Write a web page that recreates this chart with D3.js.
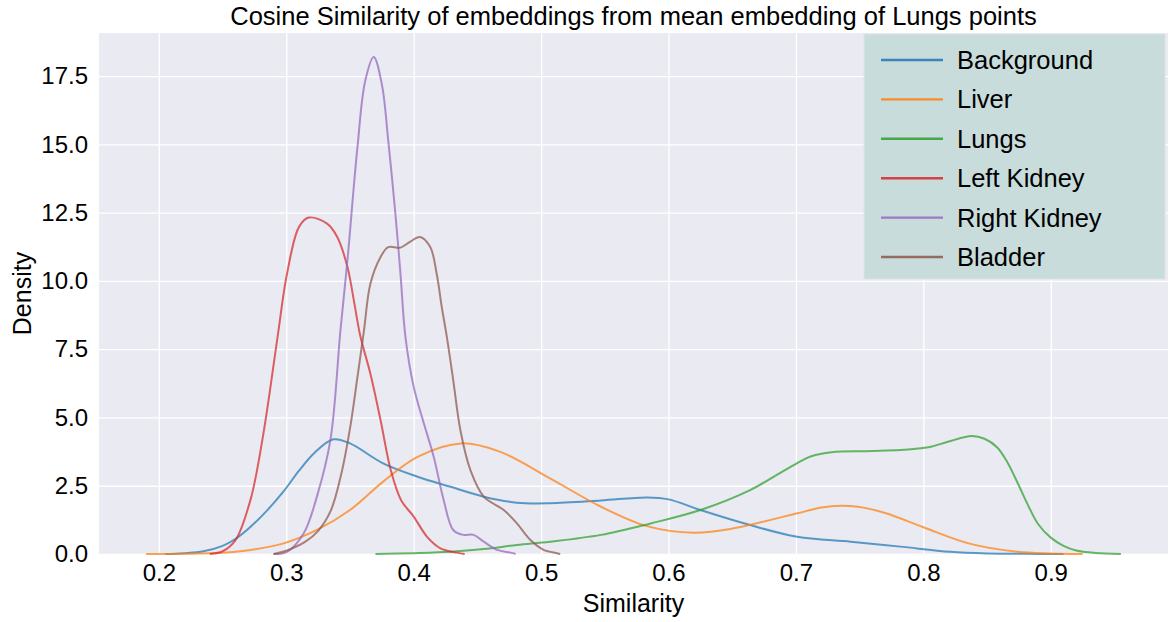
<!DOCTYPE html>
<html>
<head>
<meta charset="utf-8">
<script src="https://cdn.jsdelivr.net/npm/d3@7"></script>
<style>
  html, body { margin: 0; padding: 0; background: #ffffff; }
  svg { display: block; }
  text { font-family: "Liberation Sans", Arial, Helvetica, sans-serif; fill: #000; }
</style>
</head>
<body>
<svg id="chart" width="1169" height="622"></svg>
<script>
// ---------- data ----------
const seriesNames = ["Background", "Liver", "Lungs", "Left Kidney", "Right Kidney", "Bladder"];
const seriesColors = ["#1f77b4", "#ff7f0e", "#2ca02c", "#d62728", "#9467bd", "#8c564b"];

const xTicks = [0.2, 0.3, 0.4, 0.5, 0.6, 0.7, 0.8, 0.9];
const yTicks = [0.0, 2.5, 5.0, 7.5, 10.0, 12.5, 15.0, 17.5];

// [similarity, density]
const background = [
  [0.205, 0.0], [0.22, 0.03], [0.235, 0.1], [0.25, 0.3], [0.26, 0.55], [0.272, 1.0],
  [0.285, 1.6], [0.298, 2.3], [0.31, 3.05], [0.322, 3.7], [0.337, 4.2], [0.35, 4.05],
  [0.376, 3.32], [0.403, 2.83], [0.429, 2.46], [0.455, 2.1], [0.481, 1.88], [0.507, 1.86],
  [0.547, 1.96], [0.583, 2.07], [0.60, 2.0], [0.625, 1.61], [0.664, 1.06], [0.701, 0.63],
  [0.743, 0.45], [0.782, 0.27], [0.821, 0.08], [0.85, 0.02], [0.88, 0.005], [0.91, 0.0]
];
const liver = [
  [0.19, 0.0], [0.22, 0.01], [0.25, 0.05], [0.272, 0.15], [0.298, 0.39], [0.324, 0.88],
  [0.35, 1.61], [0.376, 2.65], [0.403, 3.56], [0.437, 4.05], [0.468, 3.74], [0.507, 2.77],
  [0.547, 1.73], [0.583, 1.02], [0.62, 0.78], [0.651, 0.94], [0.701, 1.49], [0.72, 1.7],
  [0.735, 1.77], [0.75, 1.72], [0.77, 1.5], [0.80, 0.98], [0.837, 0.37], [0.874, 0.08],
  [0.90, 0.02], [0.925, 0.0]
];
const lungs = [
  [0.37, 0.0], [0.40, 0.03], [0.429, 0.08], [0.455, 0.18], [0.481, 0.33], [0.507, 0.45],
  [0.547, 0.7], [0.586, 1.12], [0.625, 1.61], [0.664, 2.34], [0.685, 2.9], [0.70, 3.3],
  [0.712, 3.58], [0.728, 3.73], [0.76, 3.77], [0.79, 3.84], [0.805, 3.92], [0.82, 4.12],
  [0.838, 4.32], [0.848, 4.22], [0.858, 3.9], [0.866, 3.35], [0.874, 2.6], [0.882, 1.8],
  [0.89, 1.1], [0.90, 0.6], [0.91, 0.3], [0.92, 0.13], [0.935, 0.04], [0.955, 0.0]
];
const leftKidney = [
  [0.24, 0.0], [0.25, 0.1], [0.26, 0.5], [0.272, 2.0], [0.282, 4.4], [0.293, 7.9],
  [0.3006, 10.27], [0.31, 11.98], [0.3176, 12.32], [0.332, 12.1], [0.34, 11.61], [0.348, 10.51],
  [0.353, 9.29], [0.358, 8.0], [0.366, 6.6], [0.374, 4.9], [0.382, 3.07], [0.39, 1.98],
  [0.40, 1.37], [0.4105, 0.63], [0.421, 0.21], [0.434, 0.05], [0.44, 0.0]
];
const rightKidney = [
  [0.29, 0.0], [0.3006, 0.08], [0.3137, 0.76], [0.324, 2.1], [0.3346, 4.17], [0.3425, 8.2],
  [0.348, 10.76], [0.3556, 14.78], [0.362, 17.34], [0.3686, 18.2], [0.375, 17.2], [0.38, 15.15],
  [0.3856, 12.47], [0.3896, 10.27], [0.3935, 7.95], [0.40, 6.12], [0.408, 4.78], [0.4157, 3.56],
  [0.4235, 1.98], [0.431, 0.88], [0.439, 0.7], [0.447, 0.7], [0.455, 0.45], [0.4655, 0.15],
  [0.476, 0.05], [0.48, 0.0]
];
const bladder = [
  [0.29, 0.0], [0.30, 0.12], [0.315, 0.45], [0.325, 0.85], [0.335, 1.6], [0.343, 2.9],
  [0.35, 4.6], [0.3556, 6.4], [0.361, 8.2], [0.366, 9.9], [0.374, 10.88], [0.38, 11.24],
  [0.3896, 11.22], [0.397, 11.43], [0.405, 11.61], [0.413, 11.24], [0.418, 10.27], [0.422, 9.05],
  [0.426, 7.95], [0.431, 6.37], [0.4366, 4.54], [0.4445, 3.07], [0.455, 2.1], [0.4707, 1.61],
  [0.481, 1.12], [0.4916, 0.51], [0.502, 0.15], [0.5126, 0.03], [0.515, 0.0]
];
const seriesData = [background, liver, lungs, leftKidney, rightKidney, bladder];

// ---------- layout ----------
const plot = { left: 99, right: 1168, top: 33, bottom: 554 };

const svg = d3.select("#chart");

const x = d3.scaleLinear().domain([0.153, 0.992]).range([plot.left, plot.right]);
const y = d3.scaleLinear().domain([0, 19.08]).range([plot.bottom, plot.top]);

// background
svg.append("rect")
  .attr("x", plot.left).attr("y", plot.top)
  .attr("width", plot.right - plot.left).attr("height", plot.bottom - plot.top)
  .attr("fill", "#eaeaf2");

// grid via axes
const gx = svg.append("g")
  .attr("transform", `translate(0,${plot.bottom})`)
  .call(d3.axisBottom(x).tickValues(xTicks).tickFormat(d3.format(".1f"))
    .tickSize(-(plot.bottom - plot.top)).tickPadding(10));
gx.select(".domain").remove();
gx.selectAll(".tick line").attr("stroke", "#ffffff").attr("stroke-width", 1.3);
gx.selectAll(".tick text").attr("font-size", 24).attr("dy", "0.71em")
  .attr("font-family", "Liberation Sans, Arial, sans-serif").attr("fill", "#000");

const gy = svg.append("g")
  .attr("transform", `translate(${plot.left},0)`)
  .call(d3.axisLeft(y).tickValues(yTicks).tickFormat(d3.format(".1f"))
    .tickSize(-(plot.right - plot.left)).tickPadding(11));
gy.select(".domain").remove();
gy.selectAll(".tick line").attr("stroke", "#ffffff").attr("stroke-width", 1.3);
gy.selectAll(".tick text").attr("font-size", 24)
  .attr("font-family", "Liberation Sans, Arial, sans-serif").attr("fill", "#000");

// curves
const line = d3.line()
  .x(d => x(d[0]))
  .y(d => y(d[1]))
  .curve(d3.curveCatmullRom.alpha(0.5));

svg.append("clipPath").attr("id", "clipPlot")
  .append("rect").attr("x", plot.left).attr("y", plot.top)
  .attr("width", plot.right - plot.left).attr("height", plot.bottom - plot.top + 2);

const curves = svg.append("g").attr("clip-path", "url(#clipPlot)");
seriesData.forEach((data, i) => {
  curves.append("path")
    .datum(data)
    .attr("d", line)
    .attr("fill", "none")
    .attr("stroke", seriesColors[i])
    .attr("stroke-opacity", 0.72)
    .attr("stroke-width", 2)
    .attr("stroke-linejoin", "round");
});

// title and axis labels
svg.append("text")
  .attr("x", (plot.left + plot.right) / 2).attr("y", 25)
  .attr("text-anchor", "middle").attr("font-size", 25.5)
  .text("Cosine Similarity of embeddings from mean embedding of Lungs points");

svg.append("text")
  .attr("x", (plot.left + plot.right) / 2).attr("y", 612)
  .attr("text-anchor", "middle").attr("font-size", 25)
  .text("Similarity");

svg.append("text")
  .attr("transform", `translate(31,${(plot.top + plot.bottom) / 2}) rotate(-90)`)
  .attr("text-anchor", "middle").attr("font-size", 25)
  .text("Density");

// legend
const legend = svg.append("g");
legend.append("rect")
  .attr("x", 864).attr("y", 34).attr("width", 301).attr("height", 245)
  .attr("fill", "#c8dcdc").attr("stroke", "#dde3e6").attr("stroke-width", 1);

seriesNames.forEach((name, i) => {
  const cy = 60 + i * 39.4;
  legend.append("line")
    .attr("x1", 881).attr("x2", 943).attr("y1", cy).attr("y2", cy)
    .attr("stroke", seriesColors[i]).attr("stroke-opacity", 0.85).attr("stroke-width", 2.4);
  legend.append("text")
    .attr("x", 957).attr("y", cy).attr("dy", "0.35em")
    .attr("font-size", 25.5)
    .text(name);
});
</script>
</body>
</html>
